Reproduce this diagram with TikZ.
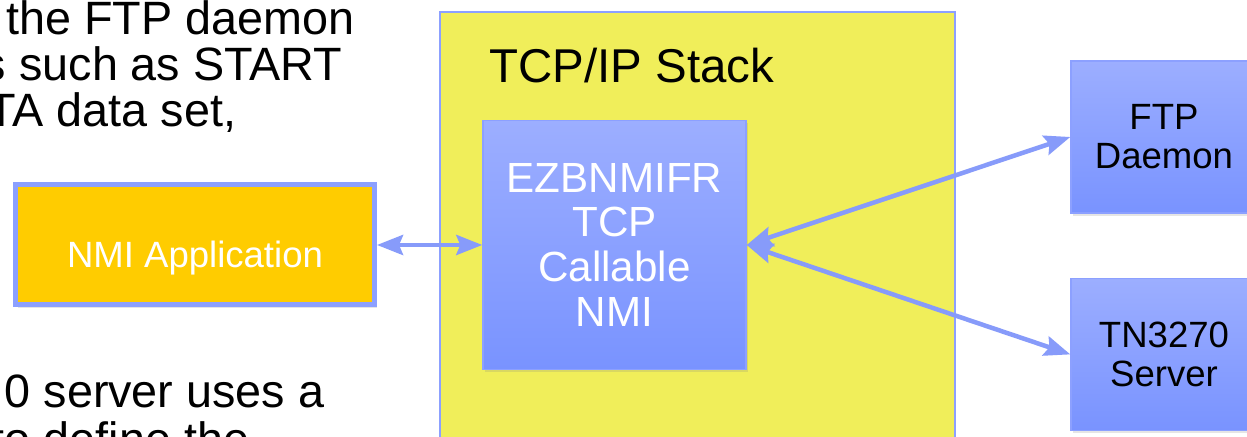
\documentclass[tikz,border=0pt]{standalone}
\usepackage{fontspec}
\setmainfont{Liberation Sans}
\usetikzlibrary{arrows.meta,positioning,shadows}
\definecolor{stackyellow}{RGB}{240,238,90}
\definecolor{stackedge}{RGB}{140,160,255}
\definecolor{appgold}{RGB}{255,204,0}
\definecolor{nmitop}{RGB}{156,174,255}
\definecolor{nmibottom}{RGB}{121,147,255}
\definecolor{linkblue}{RGB}{135,155,250}

\begin{document}
\begin{tikzpicture}[
    proc/.style={draw=stackedge, line width=0.4pt, top color=nmitop, bottom color=nmibottom, minimum width=1.86cm, minimum height=1.52cm, align=center, font=\fontsize{10.4}{11.1}\selectfont, drop shadow={opacity=0.2, shadow xshift=0.02cm, shadow yshift=-0.03cm}},
    body/.style={font=\fontsize{13.3}{14}\selectfont, inner sep=0pt, anchor=base east},
    arrow/.style={<->, >={Stealth[length=0.26cm, width=0.2cm, inset=0.04cm]}, line width=0.045cm, draw=linkblue}
]
\useasboundingbox (0,0) rectangle (12.47,4.37);
\clip (0,0) rectangle (12.47,4.37);
\fill[white] (0,0) rectangle (12.47,4.37);

% Slide text (cut off at the edges)
\node[body] (txt1) at (3.55, 4.02) {the FTP daemon};
\node[body] (txt2) at (3.43, 3.56) {s such as START};
\node[body] (txt3) at (2.37, 3.10) {TA data set,};
\node[body] (txt4) at (3.25, 0.29) {0 server uses a};
\node[body] (txt5) at (2.50, -0.19) {to define the};

% Stack
\node[draw=stackedge, line width=0.6pt, fill=stackyellow, minimum width=5.15cm, minimum height=4.6cm] (stack) at (6.975, 1.95) {};
\node[font=\fontsize{13.5}{15}\selectfont, inner sep=0pt, anchor=base west] (stacklbl) at (4.89, 3.54) {TCP/IP Stack};

% Callable NMI
\node[proc, text=white, minimum width=2.63cm, minimum height=2.49cm, font=\fontsize{12}{12.8}\selectfont] (ezb) at (6.145, 1.92) {EZBNMIFR\\TCP\\Callable\\NMI};

% Application
\node[draw=stackedge, line width=0.05cm, fill=appgold, text=white, minimum width=3.59cm, minimum height=1.20cm, text height=0.45cm, text depth=0pt, font=\fontsize{10.4}{11}\selectfont, drop shadow={opacity=0.2, shadow xshift=0.02cm, shadow yshift=-0.03cm}] (app) at (1.95, 1.92) {NMI Application};

% Servers
\node[proc] (ftp) at (11.64, 3.00) {FTP\\Daemon};
\node[proc, below=0.64cm of ftp] (tn) {TN3270\\Server};

% Arrows
\draw[arrow] (app) -- (ezb);
\draw[arrow] (ezb.east) -- (ftp.west);
\draw[arrow] (ezb.east) -- (tn.west);

\end{tikzpicture}
\end{document}
